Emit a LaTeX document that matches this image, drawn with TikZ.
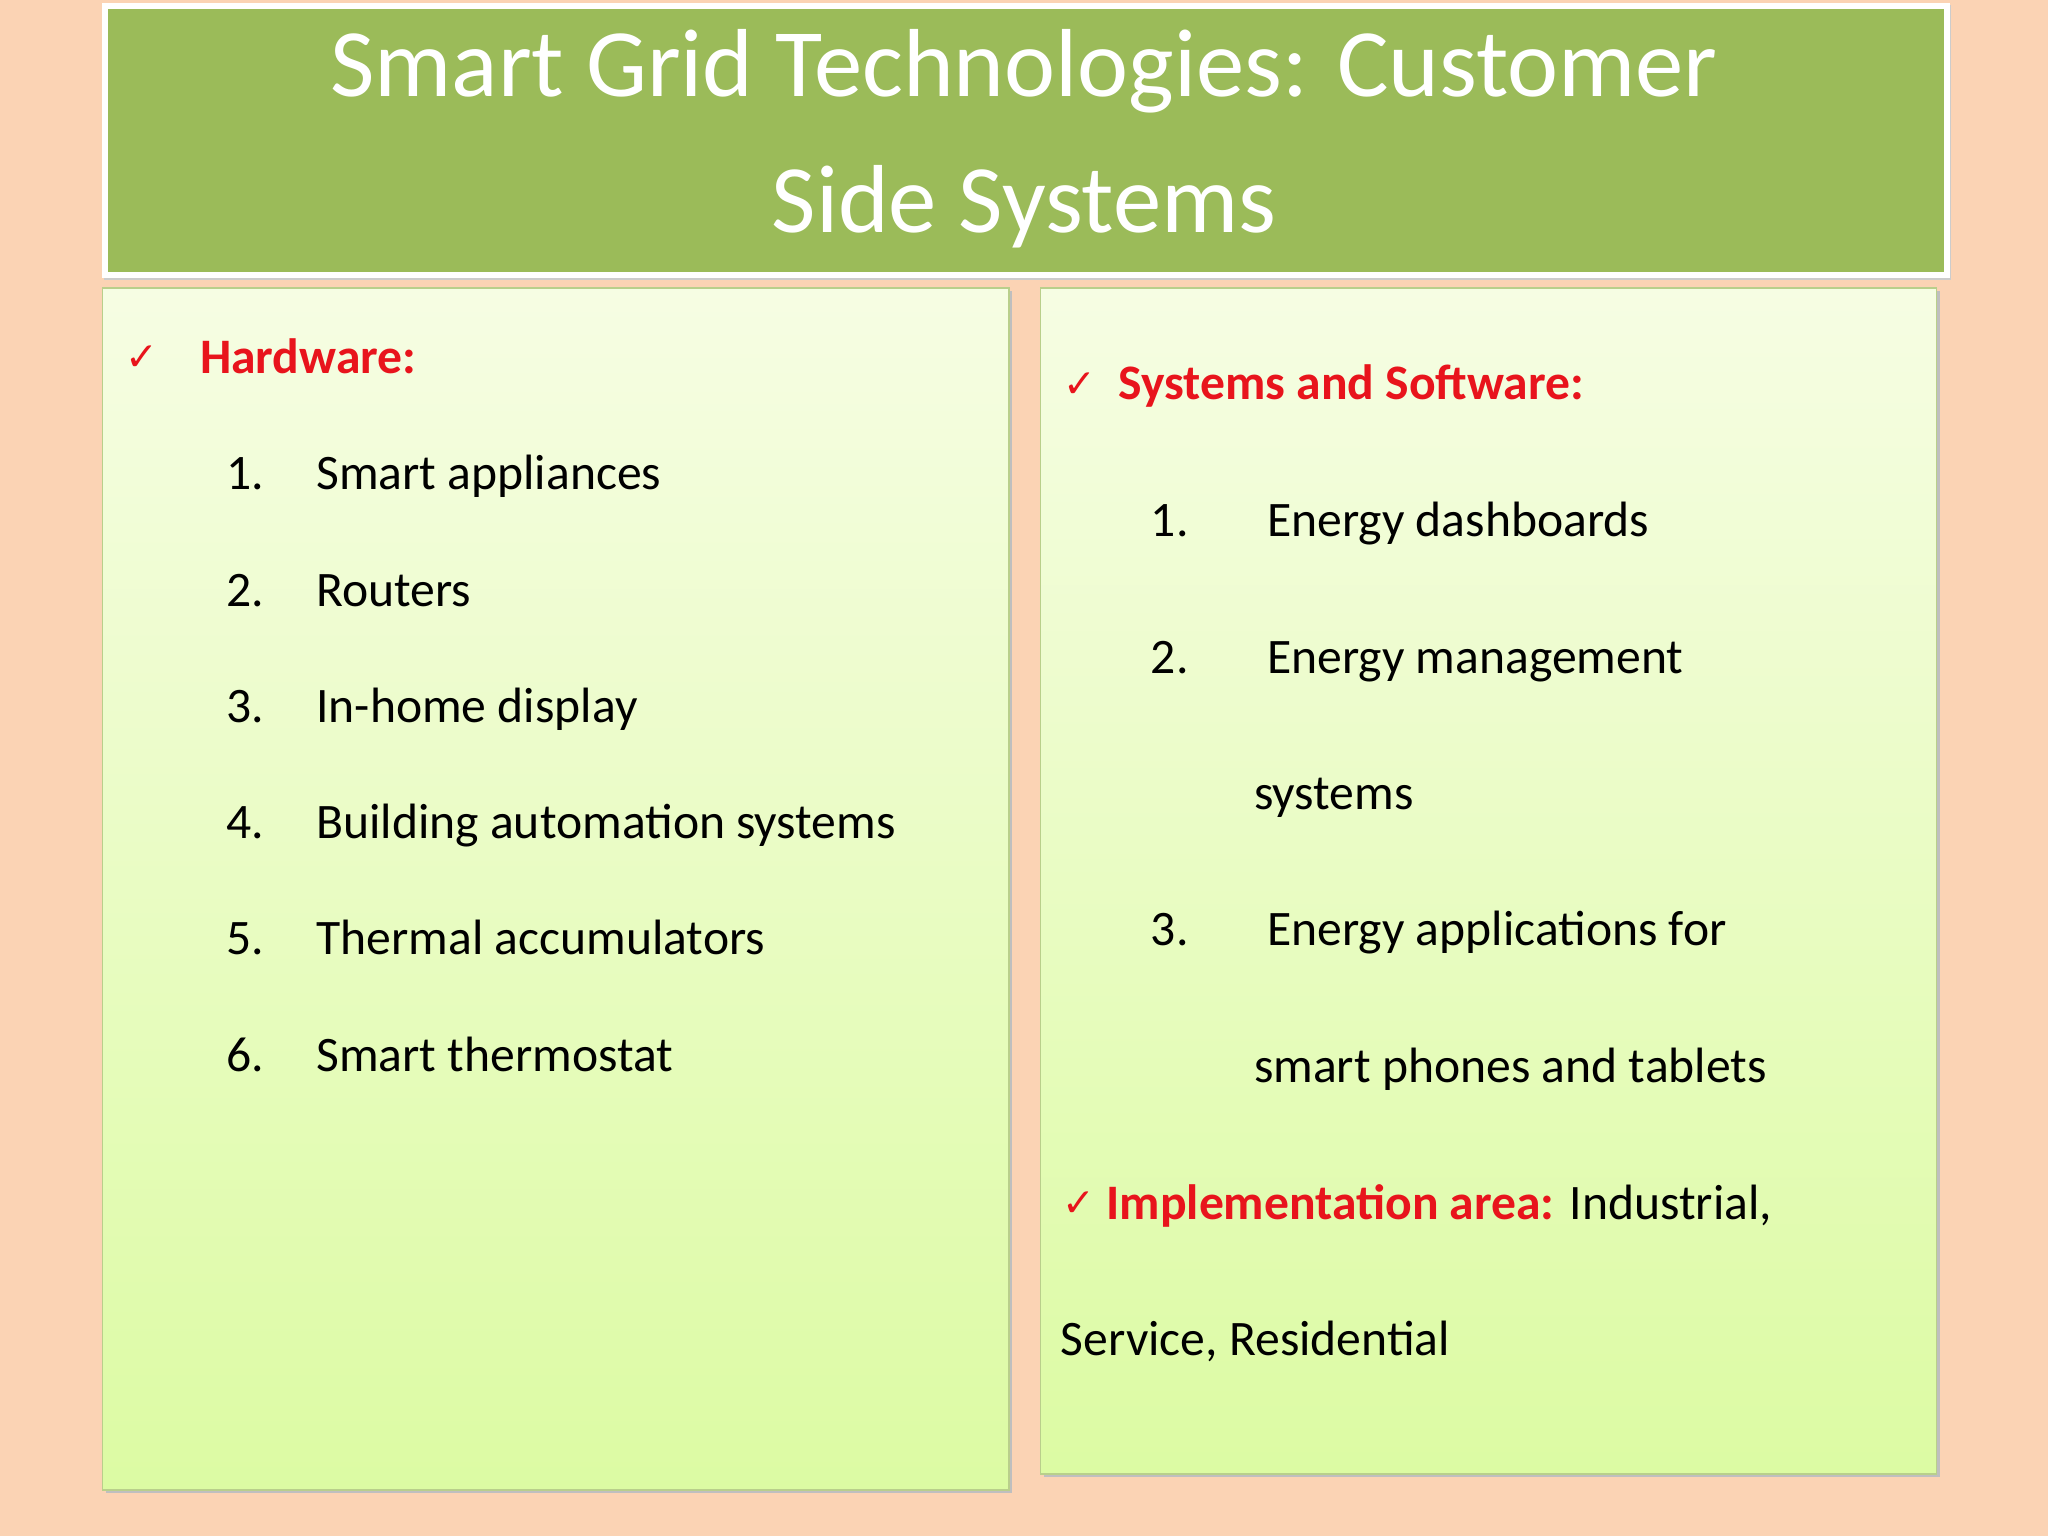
\documentclass[tikz,border=0pt]{standalone}
\usepackage{fontspec}
\setmainfont{Carlito}
\newfontfamily\dejavu{DejaVu Sans}
\definecolor{bg}{HTML}{FBD3B4}
\definecolor{ttl}{HTML}{9BBB59}
\definecolor{boxtop}{HTML}{F6FDE3}
\definecolor{boxbot}{HTML}{DCFBA3}
\definecolor{hred}{HTML}{E8141C}
\begin{document}
\begin{tikzpicture}[x=1pt,y=-1pt,
  panel/.style={draw=ttl!70!white,line width=1.2pt,top color=boxtop,bottom color=boxbot,drop shadow/.style={}},
  body/.style={anchor=base west,inner sep=0,font=\fontsize{38}{40}\selectfont,text=black},
  head/.style={anchor=base west,inner sep=0,font=\fontsize{38}{40}\selectfont\bfseries,text=hred},
  chk/.style={anchor=base west,inner sep=0,font=\fontsize{30}{32}\selectfont\dejavu,text=hred}]
\fill[bg] (0,0) rectangle (1568,1176);
\useasboundingbox (0,0) rectangle (1568,1176);
% title
\fill[gray!40] (80,4) rectangle (1494,214);
\node[draw=white,line width=5pt,fill=ttl,minimum width=1410pt,minimum height=206pt,anchor=north west,inner sep=0] (title) at (78,2) {};
\node[text=white,align=center,font=\fontsize{74}{104}\selectfont] (tt) at (784,106) {Smart Grid Technologies: Customer\\Side Systems};
% panels
\fill[gray!50] (81,223) rectangle (775,1143);
\fill[gray!50] (799,223) rectangle (1485,1131);
\node[panel,minimum width=694pt,minimum height=920pt,anchor=north west,inner sep=0] (left) at (78,220) {};
\node[panel,minimum width=686pt,minimum height=908pt,anchor=north west,inner sep=0] (right) at (796,220) {};
% left text
\node[chk] (c1) at (96,284) {✓};
\node[head] (h1) at (153,286) {Hardware:};
\foreach \i/\t [count=\k] in {1/Smart appliances,2/Routers,3/In-home display,4/Building automation systems,5/Thermal accumulators,6/Smart thermostat}{
  \node[body] (ln\k) at (173,{375+89*(\k-1)}) {\i.};
  \node[body] (lt\k) at (242,{375+89*(\k-1)}) {\t};
}
% right text
\node[chk] (c2) at (814,304) {✓};
\node[head] (h2) at (856,306) {Systems and Software:};
\node[body] (r1) at (881,411) {1.};
\node[body] (r1t) at (970,411) {Energy dashboards};
\node[body] (r2) at (881,516) {2.};
\node[body] (r2t) at (970,516) {Energy management};
\node[body] (r2u) at (960,620) {systems};
\node[body] (r3) at (881,724) {3.};
\node[body] (r3t) at (970,724) {Energy applications for};
\node[body] (r3u) at (960,829) {smart phones and tablets};
\node[chk] (c3) at (813,931) {✓};
\node[body] (imp) at (847,934) {\textbf{\color{hred}Implementation area:} Industrial,};
\node[body] (imp2) at (812,1038) {Service, Residential};
\end{tikzpicture}
\end{document}
